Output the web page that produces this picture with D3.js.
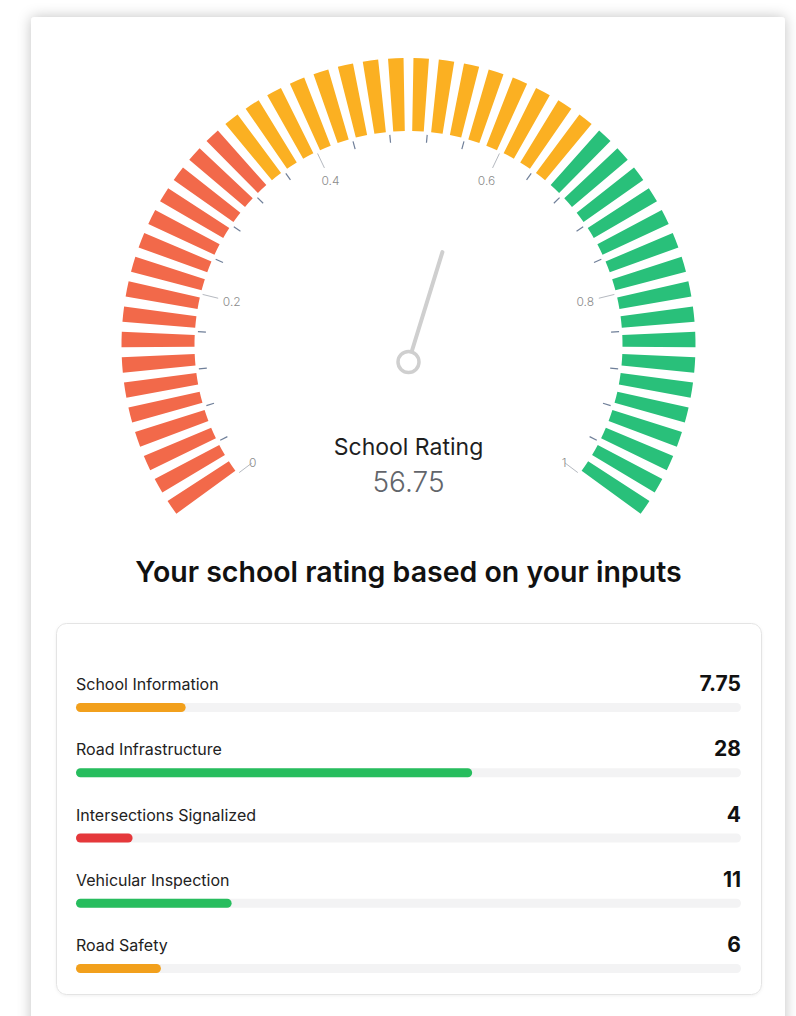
<!DOCTYPE html>
<html lang="en">
<head>
  <meta charset="utf-8">
  <title>School Rating</title>
  <script src="https://cdn.jsdelivr.net/npm/d3@7"></script>
  <style>
    * { margin: 0; padding: 0; }
    body { background: #fff; font-family: Inter, Roboto, "Noto Sans", sans-serif; }
  </style>
</head>
<body>
  <div id="chart"></div>
  <script>
    // data
    var gaugeTitle = "School Rating";
    var gaugeValue = 56.75;            // out of 100
    var gaugeTicks = [0, 0.2, 0.4, 0.6, 0.8, 1];
    var gaugeBands = [1 / 3, 2 / 3];   // red | orange | green
    var segmentCount = 50;

    var heading = "Your school rating based on your inputs";
    var categories = ["School Information", "Road Infrastructure", "Intersections Signalized", "Vehicular Inspection", "Road Safety"];
    var scores = [7.75, 28, 4, 11, 6];
    var levels = ["mid", "high", "low", "high", "mid"];
    var scoreMax = 47;

    // layout
    var W = 796, H = 1016;
    var cx = 408.5, cy = 345;
    var rIn = 214, rOut = 287;
    var deg = Math.PI / 180;
    var sweep = 127;

    var svg = d3.select("#chart").append("svg")
        .attr("width", W)
        .attr("height", H);

    var defs = svg.append("defs");
    var f = defs.append("filter").attr("id", "shadow")
        .attr("x", "-10%").attr("y", "-10%").attr("width", "120%").attr("height", "120%");
    f.append("feDropShadow").attr("dx", 0).attr("dy", 0).attr("stdDeviation", 7)
        .attr("flood-color", "#000").attr("flood-opacity", 0.24);
    var f2 = defs.append("filter").attr("id", "soft")
        .attr("x", "-5%").attr("y", "-5%").attr("width", "110%").attr("height", "110%");
    f2.append("feDropShadow").attr("dx", 0).attr("dy", 1).attr("stdDeviation", 1.5)
        .attr("flood-color", "#000").attr("flood-opacity", 0.06);

    // card
    svg.append("rect")
        .attr("x", 31).attr("y", 17)
        .attr("width", 754).attr("height", 1060)
        .attr("rx", 4)
        .attr("fill", "#fff")
        .attr("filter", "url(#shadow)");

    // gauge
    var angle = d3.scaleLinear().domain([0, 1]).range([-sweep * deg, sweep * deg]);
    var bandColor = d3.scaleThreshold().domain(gaugeBands).range(["#f2694a", "#fbb022", "#29c07a"]);
    var segs = d3.range(segmentCount).map(function(i) { return (i + 0.5) / segmentCount; });
    var half = 1.55 * deg;

    var arc = d3.arc().innerRadius(rIn).outerRadius(rOut);
    var g = svg.append("g").attr("transform", "translate(" + cx + "," + cy + ")");

    g.selectAll("path.seg")
        .data(segs)
        .join("path")
        .attr("class", "seg")
        .attr("d", function(v) {
          return arc({ startAngle: angle(v) - half, endAngle: angle(v) + half });
        })
        .attr("fill", function(v) { return bandColor(v); });

    // ticks
    var minor = d3.range(26).map(function(i) { return i / 25; });
    function pt(v, r) {
      var a = angle(v);
      return [r * Math.sin(a), -r * Math.cos(a)];
    }
    g.selectAll("line.minor")
        .data(minor.filter(function(v) { return gaugeTicks.indexOf(+v.toFixed(2)) < 0; }))
        .join("line")
        .attr("class", "minor")
        .attr("x1", function(v) { return pt(v, 203)[0]; })
        .attr("y1", function(v) { return pt(v, 203)[1]; })
        .attr("x2", function(v) { return pt(v, 211)[0]; })
        .attr("y2", function(v) { return pt(v, 211)[1]; })
        .attr("stroke", "#6f7f99")
        .attr("stroke-width", 1.2);

    g.selectAll("line.major")
        .data(gaugeTicks)
        .join("line")
        .attr("class", "major")
        .attr("x1", function(v) { return pt(v, 196)[0]; })
        .attr("y1", function(v) { return pt(v, 196)[1]; })
        .attr("x2", function(v) { return pt(v, 212)[0]; })
        .attr("y2", function(v) { return pt(v, 212)[1]; })
        .attr("stroke", "#b5b9c0")
        .attr("stroke-width", 1);

    g.selectAll("text.tick")
        .data(gaugeTicks)
        .join("text")
        .attr("class", "tick")
        .attr("x", function(v) { return pt(v, (v === 0 || v === 1) ? 195 : 182)[0]; })
        .attr("y", function(v) { return pt(v, (v === 0 || v === 1) ? 195 : 182)[1]; })
        .attr("text-anchor", "middle")
        .attr("dominant-baseline", "central")
        .attr("font-size", "12px")
        .attr("font-weight", 300)
        .attr("fill", "#8c8c8c")
        .text(function(v) { return v; });

    // needle
    var pivot = [0, 17];
    var needleV = gaugeValue / 100;
    var na = angle(needleV);
    var needle = g.append("g").attr("transform", "translate(" + pivot[0] + "," + pivot[1] + ")");
    needle.append("line")
        .attr("x1", 11 * Math.sin(na)).attr("y1", -11 * Math.cos(na))
        .attr("x2", 115 * Math.sin(na)).attr("y2", -115 * Math.cos(na))
        .attr("stroke", "#cfcfcf")
        .attr("stroke-width", 4)
        .attr("stroke-linecap", "round");
    needle.append("circle")
        .attr("r", 10.5)
        .attr("fill", "#fff")
        .attr("stroke", "#cfcfcf")
        .attr("stroke-width", 3.5);

    g.append("text")
        .attr("x", 0).attr("y", 110)
        .attr("text-anchor", "middle")
        .attr("font-size", "23px")
        .attr("fill", "#1f1f1f")
        .text(gaugeTitle);
    g.append("text")
        .attr("x", 0).attr("y", 147)
        .attr("text-anchor", "middle")
        .attr("font-size", "28px")
        .attr("font-weight", 300)
        .attr("fill", "#62656b")
        .text(d3.format(".2f")(gaugeValue));

    // heading
    svg.append("text")
        .attr("x", cx).attr("y", 582)
        .attr("text-anchor", "middle")
        .attr("font-size", "28.5px")
        .attr("font-weight", 600)
        .attr("fill", "#111")
        .text(heading);

    // breakdown panel
    svg.append("rect")
        .attr("x", 56.5).attr("y", 623.5)
        .attr("width", 705).attr("height", 371)
        .attr("rx", 10)
        .attr("fill", "#fff")
        .attr("stroke", "#e4e4e4")
        .attr("filter", "url(#soft)");

    var x = d3.scaleLinear().domain([0, scoreMax]).range([76, 741]);
    var y = d3.scalePoint().domain(categories).range([690, 951]);
    var levelColor = d3.scaleOrdinal().domain(["low", "mid", "high"]).range(["#e5383b", "#f2a01c", "#27bd5e"]);

    var rows = svg.selectAll("g.row")
        .data(categories)
        .join("g")
        .attr("class", "row")
        .attr("transform", function(d) { return "translate(0," + y(d) + ")"; });

    rows.append("text")
        .attr("x", x(0)).attr("y", 0)
        .attr("font-size", "16px")
        .attr("fill", "#222")
        .text(function(d) { return d; });

    rows.append("text")
        .attr("x", x.range()[1]).attr("y", 1)
        .attr("text-anchor", "end")
        .attr("font-size", "21px")
        .attr("font-weight", 700)
        .attr("fill", "#111")
        .text(function(d, i) { return scores[i]; });

    rows.append("rect")
        .attr("x", x(0)).attr("y", 13)
        .attr("width", x.range()[1] - x(0)).attr("height", 9)
        .attr("rx", 4.5)
        .attr("fill", "#f3f3f4");

    rows.append("rect")
        .attr("x", x(0)).attr("y", 13)
        .attr("width", function(d, i) { return x(scores[i]) - x(0); })
        .attr("height", 9)
        .attr("rx", 4.5)
        .attr("fill", function(d, i) { return levelColor(levels[i]); });
  </script>
</body>
</html>
